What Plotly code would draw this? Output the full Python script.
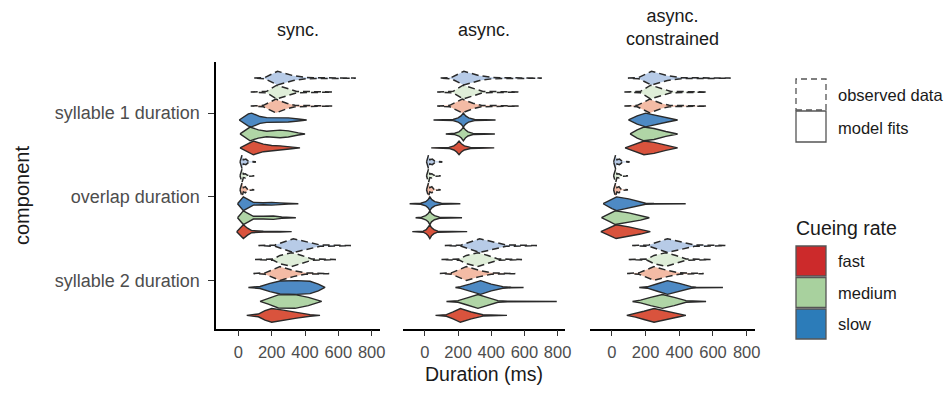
import plotly.graph_objects as go

# ---------------- data ----------------
panels = ["sync.", "async.", "async.<br>constrained"]
components = ["syllable 2 duration", "overlap duration", "syllable 1 duration"]  # bottom -> top
rates = ["slow", "medium", "fast"]
x_ticks = [0, 200, 400, 600, 800]

# violin profiles: (duration in ms, relative density width)
observed = {
    "syllable 1 duration": {
        "slow":   ([95, 160, 235, 330, 410, 700, 705], [0, 0.1, 1, 0.35, 0.08, 0.02, 0]),
        "medium": ([74, 170, 230, 300, 350, 560, 565], [0, 0.1, 1, 0.45, 0.1, 0.02, 0]),
        "fast":   ([74, 150, 225, 290, 340, 560, 565], [0, 0.1, 1, 0.4, 0.1, 0.02, 0]),
    },
    "overlap duration": {
        "slow":   ([10, 22, 30, 45, 60, 100, 105], [0, 1, 0.3, 0.4, 0.1, 0.04, 0]),
        "medium": ([10, 22, 30, 42, 55, 90, 95], [0, 1, 0.25, 0.3, 0.08, 0.04, 0]),
        "fast":   ([10, 22, 30, 42, 55, 90, 95], [0, 1, 0.3, 0.45, 0.08, 0.04, 0]),
    },
    "syllable 2 duration": {
        "slow":   ([120, 220, 330, 420, 490, 670, 675], [0, 0.1, 1, 0.5, 0.1, 0.02, 0]),
        "medium": ([100, 210, 250, 320, 380, 440, 580, 585], [0, 0.1, 0.6, 1, 0.6, 0.1, 0.02, 0]),
        "fast":   ([90, 160, 250, 330, 400, 540, 545], [0, 0.1, 1, 0.45, 0.1, 0.02, 0]),
    },
}

fit_sync = {
    "syllable 1 duration": {
        "slow":   ([5, 60, 80, 130, 170, 300, 360, 410], [0, 0.9, 1, 0.5, 0.35, 0.3, 0.15, 0]),
        "medium": ([10, 70, 120, 170, 250, 300, 360, 400], [0, 1, 0.6, 0.4, 0.55, 0.45, 0.15, 0]),
        "fast":   ([10, 90, 150, 200, 250, 320, 370], [0, 1, 0.55, 0.35, 0.3, 0.12, 0]),
    },
    "overlap duration": {
        "slow":   ([-5, 30, 60, 90, 150, 200, 250, 300, 360], [0, 1, 0.6, 0.2, 0.15, 0.2, 0.12, 0.05, 0]),
        "medium": ([-5, 30, 60, 90, 150, 210, 260, 345], [0, 1, 0.6, 0.2, 0.2, 0.25, 0.1, 0]),
        "fast":   ([-10, 30, 55, 80, 150, 250, 320], [0, 1, 0.5, 0.15, 0.07, 0.04, 0]),
    },
    "syllable 2 duration": {
        "slow":   ([60, 130, 190, 250, 350, 430, 480, 520], [0, 0.15, 0.6, 0.95, 1, 0.9, 0.5, 0]),
        "medium": ([130, 180, 240, 340, 420, 500], [0, 0.4, 0.95, 1, 0.6, 0]),
        "fast":   ([50, 120, 160, 200, 260, 350, 430, 490], [0, 0.2, 0.7, 1, 0.8, 0.4, 0.12, 0]),
    },
}

fit_async = {
    "syllable 1 duration": {
        "slow":   ([52, 170, 200, 218, 232, 246, 264, 300, 426], [0, 0.08, 0.3, 0.6, 1, 0.6, 0.3, 0.08, 0]),
        "medium": ([126, 180, 205, 220, 232, 244, 260, 290, 422], [0, 0.1, 0.3, 0.6, 1, 0.6, 0.3, 0.08, 0]),
        "fast":   ([38, 145, 175, 192, 206, 220, 238, 275, 418], [0, 0.08, 0.3, 0.6, 1, 0.6, 0.3, 0.08, 0]),
    },
    "overlap duration": {
        "slow":   ([-92, -25, 5, 20, 30, 42, 60, 100, 214], [0, 0.08, 0.3, 0.6, 1, 0.6, 0.3, 0.08, 0]),
        "medium": ([-56, -20, 5, 20, 30, 40, 58, 88, 224], [0, 0.08, 0.3, 0.6, 1, 0.6, 0.3, 0.08, 0]),
        "fast":   ([-76, -10, 8, 20, 30, 40, 55, 78, 255], [0, 0.08, 0.3, 0.6, 1, 0.6, 0.3, 0.08, 0]),
    },
    "syllable 2 duration": {
        "slow":   ([184, 215, 270, 336, 400, 470, 520, 595], [0, 0.12, 0.5, 1, 0.5, 0.12, 0.04, 0]),
        "medium": ([130, 200, 260, 320, 380, 440, 500, 795], [0, 0.12, 0.55, 1, 0.55, 0.12, 0.04, 0]),
        "fast":   ([64, 130, 170, 214, 280, 350, 495], [0, 0.12, 0.5, 1, 0.5, 0.1, 0]),
    },
}

fit_constrained = {
    "syllable 1 duration": {
        "slow":   ([98, 150, 200, 260, 330, 390], [0, 0.6, 1, 0.7, 0.3, 0]),
        "medium": ([108, 150, 190, 250, 320, 390], [0, 0.6, 1, 0.8, 0.35, 0]),
        "fast":   ([78, 140, 190, 250, 320, 390], [0, 0.6, 1, 0.8, 0.35, 0]),
    },
    "overlap duration": {
        "slow":   ([-52, 0, 28, 100, 170, 200, 250, 438], [0, 0.7, 1, 0.7, 0.25, 0.08, 0.03, 0]),
        "medium": ([-62, -10, 20, 100, 170, 222], [0, 0.6, 1, 0.7, 0.35, 0]),
        "fast":   ([-66, -10, 25, 100, 170, 228], [0, 0.6, 1, 0.7, 0.35, 0]),
    },
    "syllable 2 duration": {
        "slow":   ([162, 210, 270, 330, 400, 470, 500, 659], [0, 0.1, 0.55, 1, 0.6, 0.12, 0.05, 0]),
        "medium": ([122, 170, 230, 300, 370, 440, 559], [0, 0.2, 0.6, 1, 0.6, 0.12, 0]),
        "fast":   ([88, 140, 190, 250, 320, 400, 439], [0, 0.25, 0.6, 1, 0.6, 0.2, 0]),
    },
}
fits = [fit_sync, fit_async, fit_constrained]

# ---------------- style ----------------
FONT = "Liberation Sans, Arial, Helvetica, sans-serif"
obs_fill = {"slow": "#b7cbe7", "medium": "#dfeed9", "fast": "#f3bba5"}
fit_fill = {"slow": "#4e8ac4", "medium": "#b0d5a6", "fast": "#d9533d"}
legend_fill = {"fast": "#cc2a2b", "medium": "#a8d19e", "slow": "#2c7cb9"}
obs_off = {"slow": 5 / 12, "medium": 3 / 12, "fast": 1 / 12}
fit_off = {"slow": -1 / 12, "medium": -3 / 12, "fast": -5 / 12}
HW = 0.082
OUTLINE = "#2a2a2a"

W, H = 944, 408
x_dom = [(216.2, 379.5), (402.8, 565.4), (589.5, 754.6)]
y_top, y_bot = 62, 328.5
x_range = [-133, 847]
y_range = [-0.573, 2.609]

fig = go.Figure()


def add_violin(panel_idx, xs, ws, centre, fill, dashed):
    px = list(xs) + list(xs[::-1])
    py = [centre + w * HW for w in ws] + [centre - w * HW for w in ws[::-1]]
    suffix = "" if panel_idx == 0 else str(panel_idx + 1)
    fig.add_trace(go.Scatter(
        x=px, y=py, mode="lines", fill="toself", fillcolor=fill,
        line=dict(color=OUTLINE, width=1.5 if dashed else 1.4,
                  dash="7px,4px" if dashed else "solid"),
        xaxis="x" + suffix, yaxis="y" + suffix, hoverinfo="skip", showlegend=False))


for p in range(3):
    for ci, comp in enumerate(components):
        for r in rates:
            xs, ws = observed[comp][r]
            add_violin(p, xs, ws, ci + obs_off[r], obs_fill[r], True)
        for r in rates:
            xs, ws = fits[p][comp][r]
            add_violin(p, xs, ws, ci + fit_off[r], fit_fill[r], False)

layout = dict(
    width=W, height=H, margin=dict(l=0, r=0, t=0, b=0, pad=0), autosize=False,
    paper_bgcolor="white", plot_bgcolor="white", showlegend=False,
    font=dict(family=FONT, color="#1a1a1a"),
)
for p in range(3):
    suffix = "" if p == 0 else str(p + 1)
    layout["xaxis" + suffix] = dict(
        domain=[x_dom[p][0] / W, x_dom[p][1] / W], range=x_range, anchor="y" + suffix,
        tickvals=x_ticks, ticktext=[str(v) for v in x_ticks], ticks="outside", ticklen=6,
        tickwidth=1.2, tickcolor="#333333", showline=True, linecolor="black", linewidth=1.6,
        showgrid=False, zeroline=False, automargin=False, ticklabelstandoff=2,
        tickfont=dict(size=16.5, color="#4d4d4d", family=FONT))
    ycfg = dict(
        domain=[1 - y_bot / H, 1 - y_top / H], range=y_range, anchor="x" + suffix,
        showgrid=False, zeroline=False, automargin=False)
    if p == 0:
        ycfg.update(tickvals=[0, 1, 2], ticktext=components, ticks="outside", ticklen=6,
                    tickwidth=1.2, tickcolor="#333333", showline=True, linecolor="black",
                    linewidth=1.6, ticklabelstandoff=5,
                    tickfont=dict(size=18, color="#4d4d4d", family=FONT))
    else:
        ycfg.update(showticklabels=False, showline=False, ticks="")
    layout["yaxis" + suffix] = ycfg
fig.update_layout(**layout)

# titles
titles_x = [298, 484, 672]
for p in range(3):
    fig.add_annotation(x=titles_x[p] / W, y=1 - (30 if p < 2 else 28) / H, xref="paper", yref="paper",
                       text=panels[p], showarrow=False, xanchor="center", yanchor="middle",
                       font=dict(size=18, color="#1a1a1a", family=FONT))
fig.add_annotation(x=22 / W, y=1 - 196 / H, xref="paper", yref="paper", text="component",
                   showarrow=False, textangle=-90, xanchor="center", yanchor="middle",
                   font=dict(size=20, color="#1a1a1a", family=FONT))
fig.add_annotation(x=484 / W, y=1 - 374 / H, xref="paper", yref="paper", text="Duration (ms)",
                   showarrow=False, xanchor="center", yanchor="middle",
                   font=dict(size=19.5, color="#1a1a1a", family=FONT))

# legends
def box(x0, y0, x1, y1, fill, dash="solid", color="#555555"):
    fig.add_shape(type="rect", xref="paper", yref="paper",
                  x0=x0 / W, x1=x1 / W, y0=1 - y1 / H, y1=1 - y0 / H,
                  fillcolor=fill, line=dict(color=color, width=1.3, dash=dash))


def label(x, y, text, size=16.5, color="#1a1a1a"):
    fig.add_annotation(x=x / W, y=1 - y / H, xref="paper", yref="paper", text=text,
                       showarrow=False, xanchor="left", yanchor="middle",
                       font=dict(size=size, color=color, family=FONT))


box(796, 79, 826, 110, "white", dash="6px,4px")
box(796, 111, 826, 142, "white")
label(836, 95, "observed data")
label(836, 128, "model fits")
label(794, 228, "Cueing rate", size=19.5)
legend_rates = ["fast", "medium", "slow"]
for i, r in enumerate(legend_rates):
    y0 = 246 + i * 31.5
    box(796, y0, 826, y0 + 30, legend_fill[r])
    label(836, y0 + 15, r)

fig.write_html("out.html", config={"displayModeBar": False},
               post_script="document.body.style.margin='0';document.body.style.overflow='hidden';")
